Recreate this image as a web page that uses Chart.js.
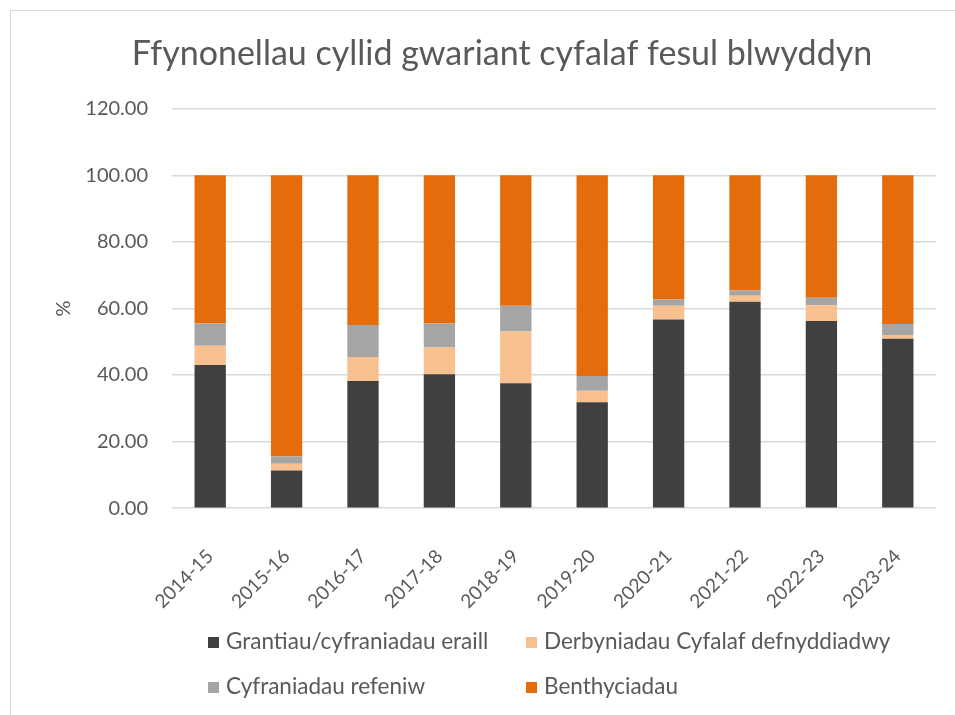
<!DOCTYPE html>
<html>
<head>
<meta charset="utf-8">
<script src="https://cdn.jsdelivr.net/npm/chart.js@4"></script>
<style>
  body { margin: 0; background: #fff; font-family: Lato, sans-serif; }
  #wrap { position: relative; width: 955px; height: 715px; overflow: hidden; }
  #frame { position: absolute; left: 10px; top: 10px; right: -5px; bottom: -5px;
           border-left: 1px solid #d9d9d9; border-top: 1px solid #d9d9d9; }
  canvas { position: absolute; left: 0; top: 0; }
  #legend { position: absolute; left: 0; top: 0; width: 955px; height: 715px; pointer-events: none; }
  .item { position: absolute; font-size: 22.5px; color: #595959; line-height: 26px; white-space: nowrap; }
  .item span.box { display: inline-block; width: 11px; height: 11px; margin-right: 7px; vertical-align: 1px; }
</style>
</head>
<body>
<div id="wrap">
  <div id="frame"></div>
  <canvas id="myChart" width="955" height="715"></canvas>
  <div id="legend"></div>
</div>
<script>
// categories + series (percent of capital spend)
var years = ['2014-15', '2015-16', '2016-17', '2017-18', '2018-19', '2019-20', '2020-21', '2021-22', '2022-23', '2023-24'];
var grants = [43.0, 11.3, 38.2, 40.2, 37.5, 31.8, 56.7, 62.0, 56.2, 50.9];
var receipts = [5.8, 2.0, 7.2, 8.1, 15.6, 3.5, 4.1, 1.8, 4.8, 1.1];
var revenue = [6.7, 2.2, 9.6, 7.2, 7.7, 4.4, 1.9, 1.7, 2.2, 3.3];
var borrowing = [44.5, 84.5, 45.0, 44.5, 39.2, 60.3, 37.3, 34.5, 36.8, 44.7];

var seriesNames = ['Grantiau/cyfraniadau eraill', 'Derbyniadau Cyfalaf defnyddiadwy', 'Cyfraniadau refeniw', 'Benthyciadau'];
var seriesColors = ['#404040', '#F8BF8F', '#A5A5A5', '#E46C0A'];
var yTicks = [0, 20, 40, 60, 80, 100, 120];

var ctx = document.getElementById('myChart').getContext('2d');
var chart = new Chart(ctx, {
    type: 'bar',
    data: {
        labels: years,
        datasets: [grants, receipts, revenue, borrowing].map(function (d, i) {
            return {
                label: seriesNames[i],
                data: d,
                backgroundColor: seriesColors[i],
                categoryPercentage: 1,
                barPercentage: 0.41
            };
        })
    },
    options: {
        responsive: false,
        animation: false,
        // left padding is larger so the title centres where the original has it
        layout: { padding: { left: 68, right: 19, top: 0, bottom: 73 } },
        plugins: {
            legend: { display: false },
            tooltip: { enabled: false },
            title: {
                display: true,
                text: 'Ffynonellau cyllid gwariant cyfalaf fesul blwyddyn',
                color: '#595959',
                font: { family: 'Lato', size: 34, weight: 'normal' },
                padding: { top: 34, bottom: 34 }
            }
        },
        scales: {
            x: {
                stacked: true,
                grid: { display: false },
                border: { display: false },
                ticks: {
                    color: '#595959',
                    font: { family: 'Lato', size: 19 },
                    minRotation: 45, maxRotation: 45,
                    padding: 29
                }
            },
            y: {
                stacked: true,
                min: 0, max: 120,
                afterBuildTicks: function (axis) {
                    axis.ticks = yTicks.map(function (v) { return { value: v }; });
                },
                afterFit: function (axis) { axis.width = 104; },
                grid: { color: '#d9d9d9', lineWidth: 1.5, drawTicks: false },
                border: { display: false },
                ticks: {
                    color: '#595959',
                    font: { family: 'Lato', size: 20 },
                    padding: 24,
                    callback: function (v) { return Number(v).toFixed(2); }
                },
                title: {
                    display: true,
                    text: '%',
                    color: '#595959',
                    font: { family: 'Lato', size: 20 },
                    padding: { top: -16, bottom: 0 }
                }
            }
        }
    }
});

// legend in two fixed columns, like the original
var legendPos = [[208, 628], [526, 628], [208, 673], [526, 673]];
var legendEl = document.getElementById('legend');
seriesNames.forEach(function (name, i) {
    var div = document.createElement('div');
    div.className = 'item';
    div.style.left = legendPos[i][0] + 'px';
    div.style.top = legendPos[i][1] + 'px';
    div.innerHTML = '<span class="box" style="background:' + seriesColors[i] + '"></span>' + name;
    legendEl.appendChild(div);
});
</script>
</body>
</html>
